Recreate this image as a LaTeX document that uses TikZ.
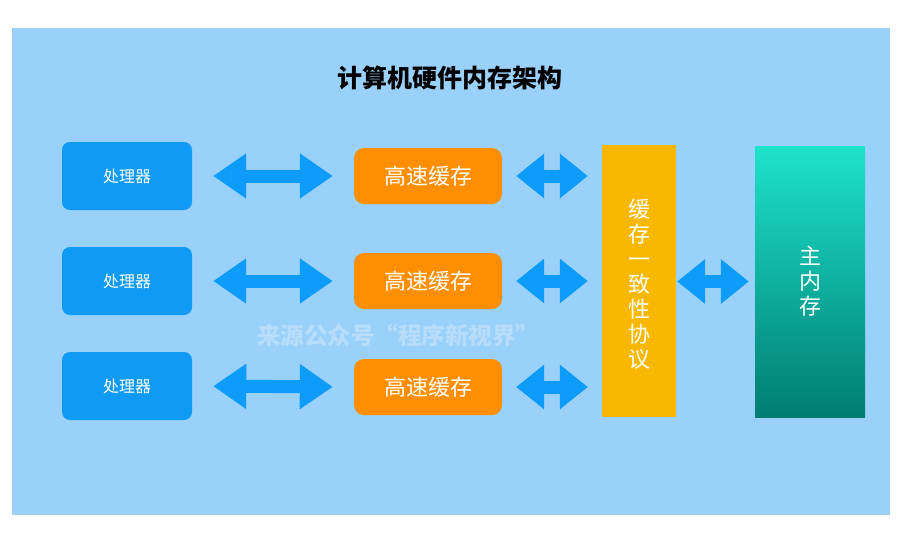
\documentclass[tikz,border=0pt]{standalone}
\usepackage{fontspec}
\newfontfamily\cjk{Noto Sans CJK SC}
\usetikzlibrary{arrows.meta}
\definecolor{panelblue}{HTML}{99D1FB}
\definecolor{procblue}{HTML}{0F9BF5}
\definecolor{arrowblue}{HTML}{0D9CFA}
\definecolor{cacheorange}{HTML}{FF8F00}
\definecolor{cohyellow}{HTML}{F8B800}
\definecolor{memtop}{HTML}{1EE3CB}
\definecolor{membot}{HTML}{007D73}
\definecolor{wmark}{HTML}{B8DDFA}
\tikzset{
  procbox/.style={fill=procblue, rounded corners=8pt, minimum width=130pt, minimum height=68pt, inner sep=0pt, text=white, font=\cjk\fontsize{16}{18}\selectfont},
  cachebox/.style={fill=cacheorange, rounded corners=10pt, minimum width=148pt, minimum height=56pt, inner sep=0pt, text=white, font=\cjk\fontsize{22}{24}\selectfont},
  tallbox/.style={minimum width=74pt, minimum height=272pt, inner sep=0pt},
  talltext/.style={text=white, align=center, font=\cjk\fontsize{22}{25}\selectfont},
  dblarrow/.style={draw=arrowblue, line width=13pt, {Triangle[width=43pt,length=33pt]}-{Triangle[width=43pt,length=33pt]}},
  shortarrow/.style={draw=arrowblue, line width=13pt, {Triangle[width=43pt,length=28pt]}-{Triangle[width=43pt,length=28pt]}},
}
\begin{document}
\begin{tikzpicture}[x=1pt,y=-1pt]
\useasboundingbox (0,0) rectangle (905,538);
\fill[white] (0,0) rectangle (905,538);
\fill[panelblue] (12,28) rectangle (890,515);
\node (title) at (450,78) {\cjk\bfseries\fontsize{25}{28}\selectfont 计算机硬件内存架构};
\node[text=wmark, font=\cjk\bfseries\fontsize{23.5}{26}\selectfont] (wm) at (398,335) {来源公众号“程序新视界”};

\node[procbox] (p1) at (127,176) {处理器};
\node[procbox] (p2) at (127,281) {处理器};
\node[procbox] (p3) at (127,386) {处理器};

\node[cachebox] (c1) at (428,176) {高速缓存};
\node[cachebox] (c2) at (428,281) {高速缓存};
\node[cachebox] (c3) at (428,387) {高速缓存};

\node[tallbox, fill=cohyellow, label={[talltext, yshift=-3pt]center:缓\\存\\一\\致\\性\\协\\议}] (coh) at (639,281) {};
\node[tallbox, minimum width=110pt, minimum height=271pt, top color=memtop, bottom color=membot, label={[talltext]center:主\\内\\存}] (mem) at (810,281.5) {};

\draw[dblarrow, shorten <=21pt, shorten >=21pt] (p1.east) -- (c1.west);
\draw[dblarrow, shorten <=21pt, shorten >=21pt] (p2.east) -- (c2.west);
\draw[dblarrow, shorten <=21pt, shorten >=21pt] (p3.east) -- (c3.west);

\draw[shortarrow, shorten <=14pt, shorten >=14pt] (c1.east) -- (c1.east -| coh.west);
\draw[shortarrow, shorten <=14pt, shorten >=14pt] (c2.east) -- (c2.east -| coh.west);
\draw[shortarrow, shorten <=14pt, shorten >=14pt] (c3.east) -- (c3.east -| coh.west);

\draw[shortarrow, shorten <=1pt, shorten >=6pt] (coh.east |- mem.west) -- (mem.west);
\end{tikzpicture}
\end{document}
